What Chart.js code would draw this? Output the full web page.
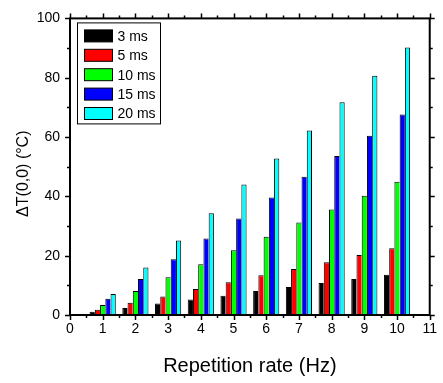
<!DOCTYPE html>
<html>
<head>
<meta charset="utf-8">
<script src="https://cdn.jsdelivr.net/npm/chart.js@4.4.1/dist/chart.umd.min.js"></script>
<style>
  html, body { margin: 0; padding: 0; background: #fff; }
  #wrap { width: 443px; height: 383px; }
</style>
</head>
<body>
<div id="wrap"><canvas id="c" width="443" height="383"></canvas></div>
<script>
// Repetition rates (Hz) on the x axis
const rates = [1, 2, 3, 4, 5, 6, 7, 8, 9, 10];

// Pulse durations, one series each
const pulseLabels = ['3 ms', '5 ms', '10 ms', '15 ms', '20 ms'];

// Temperature rise ΔT(0,0) in °C for each pulse duration
const rise3ms  = [1.1, 2.4, 3.9, 5.2, 6.5, 8.1, 9.4, 10.8, 12.1, 13.6];
const rise5ms  = [1.8, 4.1, 6.2, 8.8, 11.0, 13.4, 15.5, 17.8, 20.2, 22.5];
const rise10ms = [3.4, 8.1, 12.7, 17.1, 21.8, 26.4, 31.2, 35.6, 40.2, 44.9];
const rise15ms = [5.5, 12.1, 18.8, 25.8, 32.5, 39.6, 46.6, 53.6, 60.4, 67.6];
const rise20ms = [7.1, 16.0, 25.1, 34.3, 44.0, 52.8, 62.2, 71.7, 80.7, 90.2];

// Axis tick labels
const xTickValues = [0, 1, 2, 3, 4, 5, 6, 7, 8, 9, 10, 11];
const yTickValues = [0, 20, 40, 60, 80, 100];

const seriesValues = [rise3ms, rise5ms, rise10ms, rise15ms, rise20ms];
const seriesColors = ['#000000', '#ff0000', '#00ff00', '#0000ff', '#00ffff'];

const FONT = '"Liberation Sans", Arial, Helvetica, sans-serif';
const Y_TITLE = 'ΔT(0,0) (°C)';

// Box frame, major/minor tick marks on all four sides, y title and the boxed legend
const frameAndLegend = {
  id: 'frameAndLegend',
  afterDraw(chart) {
    const { ctx, chartArea: a, scales: { x, y } } = chart;
    ctx.save();
    ctx.strokeStyle = '#000';
    ctx.lineWidth = 1.5;
    ctx.beginPath();
    for (let v = x.min; v <= x.max + 1e-9; v += 0.5) {
      const px = Math.round(x.getPixelForValue(v)) + 0.5;
      const len = Math.abs(v - Math.round(v)) < 1e-9 ? 5 : 3;
      ctx.moveTo(px, a.bottom); ctx.lineTo(px, a.bottom + len);
      ctx.moveTo(px, a.top); ctx.lineTo(px, a.top - len);
    }
    for (let v = y.min; v <= y.max + 1e-9; v += 10) {
      const py = Math.round(y.getPixelForValue(v)) + 0.5;
      const len = v % 20 === 0 ? 5 : 3;
      ctx.moveTo(a.left, py); ctx.lineTo(a.left - len, py);
      ctx.moveTo(a.right, py); ctx.lineTo(a.right + len, py);
    }
    ctx.stroke();

    ctx.lineWidth = 2;
    ctx.strokeRect(a.left, a.top, a.right - a.left, a.bottom - a.top);

    // rotated y-axis title
    ctx.save();
    ctx.translate(24, (a.top + a.bottom) / 2 + 7);
    ctx.rotate(-Math.PI / 2);
    ctx.font = '16px ' + FONT;
    ctx.fillStyle = '#000';
    ctx.textAlign = 'center';
    ctx.textBaseline = 'middle';
    ctx.fillText(Y_TITLE, 0, 0);
    ctx.restore();

    // legend box
    const bx = a.left + 7.5, by = a.top + 4.5, bw = 83, bh = 101;
    ctx.fillStyle = '#fff';
    ctx.fillRect(bx, by, bw, bh);
    ctx.lineWidth = 1;
    ctx.strokeRect(bx, by, bw, bh);
    ctx.font = '14px ' + FONT;
    ctx.textBaseline = 'middle';
    ctx.textAlign = 'left';
    chart.data.datasets.forEach((ds, i) => {
      const cy = by + 13 + i * 19.4;
      ctx.fillStyle = ds.backgroundColor;
      ctx.fillRect(bx + 7, cy - 6, 28, 12);
      ctx.strokeStyle = '#000';
      ctx.strokeRect(bx + 7, cy - 6, 28, 12);
      ctx.fillStyle = '#000';
      ctx.fillText(ds.label, bx + 40, cy + 1);
    });
    ctx.restore();
  }
};

const lastSeries = pulseLabels.length - 1;

new Chart(document.getElementById('c'), {
  type: 'bar',
  data: {
    datasets: pulseLabels.map((label, i) => ({
      label,
      data: rates.map((r, k) => ({ x: r, y: seriesValues[i][k] })),
      backgroundColor: seriesColors[i],
      borderColor: '#000',
      // adjacent bars share a single outline between them
      borderWidth: { top: 1, left: 1, right: i === lastSeries ? 1 : 0, bottom: 0 },
      borderSkipped: false,
      categoryPercentage: 0.8,
      barPercentage: 1.0
    }))
  },
  options: {
    responsive: false,
    animation: false,
    events: [],
    layout: { padding: { top: 16, right: 11, left: 0, bottom: 0 } },
    plugins: { legend: { display: false }, tooltip: { enabled: false } },
    scales: {
      x: {
        type: 'linear',
        min: 0, max: 11,
        offset: false,
        afterBuildTicks: (s) => { s.ticks = xTickValues.map(v => ({ value: v })); },
        afterFit: (s) => { s.height = 68; },
        grid: { display: false, drawTicks: false, offset: false },
        border: { display: false },
        ticks: {
          font: { family: FONT, size: 14 },
          color: '#000',
          padding: 6,
          maxRotation: 0,
          autoSkip: false
        },
        title: {
          display: true,
          text: 'Repetition rate (Hz)',
          font: { family: FONT, size: 20 },
          color: '#000',
          padding: { top: 0, bottom: 5 }
        }
      },
      y: {
        min: 0, max: 100,
        afterBuildTicks: (s) => { s.ticks = yTickValues.map(v => ({ value: v })); },
        afterFit: (s) => { s.width = 70; },
        grid: { display: false, drawTicks: false },
        border: { display: false },
        ticks: {
          font: { family: FONT, size: 14 },
          color: '#000',
          padding: 10
        },
        title: { display: false }
      }
    }
  },
  plugins: [frameAndLegend]
});
</script>
</body>
</html>
